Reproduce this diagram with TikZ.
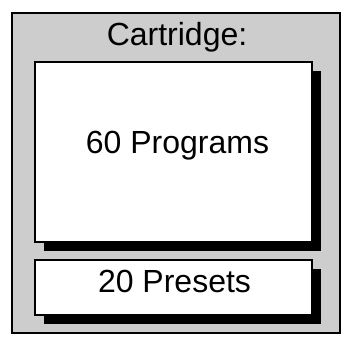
\documentclass[tikz,border=0pt]{standalone}
\usepackage{fontspec}
\setmainfont{Liberation Sans}
\usepackage{tikz}
\definecolor{cartgray}{RGB}{205,205,205}
\newcommand{\shOff}{9}
\tikzset{
  cartframe/.style ={draw=black,line width=2pt,fill=cartgray},
  membox/.style    ={draw=black,line width=2pt,fill=white},
  memshad/.style   ={fill=black,draw=none},
  memlab/.style    ={inner sep=0pt,anchor=base,font=\fontsize{32}{36}\selectfont},
}
% box with a drop shadow: name, x1, y1, x2, y2
\newcommand{\shbox}[5]{%
  \fill[memshad] (#2+\shOff,#3+\shOff) rectangle (#4+\shOff,#5+\shOff);
  \draw[membox] (#2,#3) rectangle (#4,#5);
  \coordinate (#1) at ({(#2+#4)/2},{(#3+#5)/2});
}
\begin{document}
\begin{tikzpicture}[x=1pt,y=-1pt]
  \useasboundingbox (0,0) rectangle (342,343);
  \draw[cartframe] (12,13) rectangle (340,333);
  \node[memlab] (cart) at (177,45) {Cartridge:};
  \shbox{prog}{35}{62}{312}{242}
  \shbox{pres}{35}{260}{312}{315}
  \node[memlab] (proglab) at (177.5,153) {60 Programs};
  \node[memlab] (preslab) at (174.5,292) {20 Presets};
\end{tikzpicture}
\end{document}
